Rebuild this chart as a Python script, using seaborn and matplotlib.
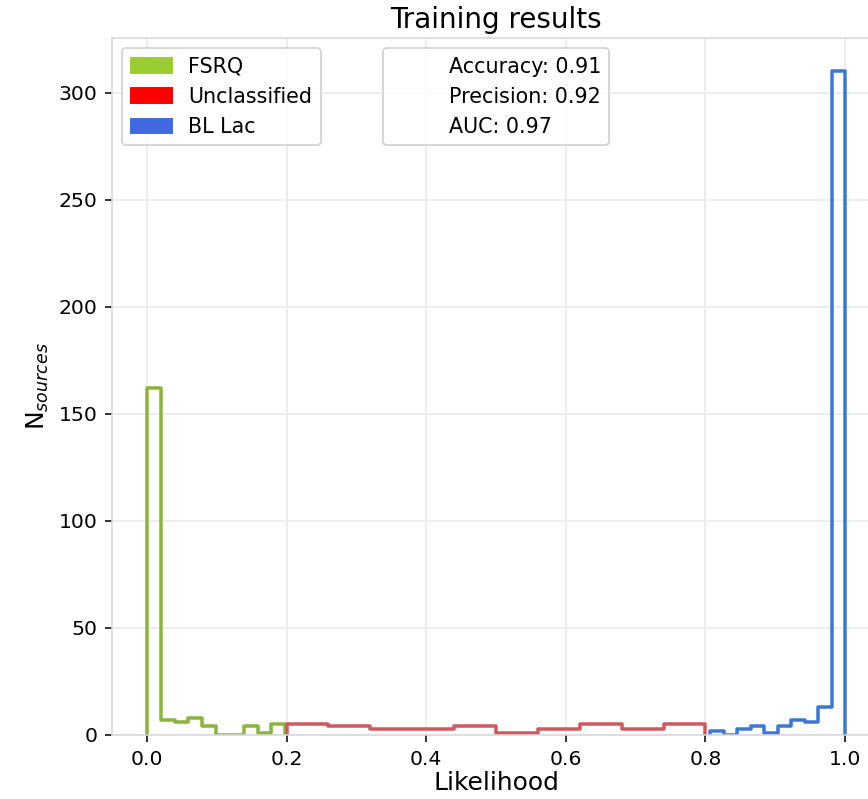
import numpy as np
import pandas as pd
import matplotlib
matplotlib.use("Agg")
import matplotlib.pyplot as plt
import seaborn as sns
from matplotlib.patches import Patch, Rectangle

# bin counts
fsrq_counts = [162, 7, 6, 8, 4, 0, 0, 4, 1, 5]
unclass_counts = [5, 4, 3, 3, 4, 1, 3, 5, 3, 5]
bllac_counts = [2, 0, 3, 4, 1, 4, 7, 6, 13, 310]

# likelihood range covered by each class (10 bins each)
fsrq_range = (0.0, 0.198)
unclass_range = (0.2, 0.8)
bllac_range = (0.807, 1.0)

class_labels = ['FSRQ', 'Unclassified', 'BL Lac']
legend_colors = ['yellowgreen', 'red', 'royalblue']
line_colors = ['#8ab43a', '#cf5a5e', '#3b78d6']
metrics = ['Accuracy: 0.91', 'Precision: 0.92', 'AUC: 0.97']


def binned_frame(counts, rng):
    # one row per bin centre, weighted by the count
    edges = np.linspace(rng[0], rng[1], len(counts) + 1)
    centres = (edges[:-1] + edges[1:]) / 2
    return pd.DataFrame({'Likelihood': centres, 'count': counts})


sns.set_style("whitegrid")
plt.rcParams['font.family'] = ['DejaVu Sans']
plt.rcParams['axes.edgecolor'] = '#d6d6d6'
plt.rcParams['grid.color'] = '#e8e8e8'
plt.rcParams['xtick.bottom'] = True
plt.rcParams['ytick.left'] = True
plt.rcParams['xtick.color'] = 'black'
plt.rcParams['ytick.color'] = 'black'
plt.rcParams['text.color'] = 'black'
plt.rcParams['axes.labelcolor'] = 'black'

fig = plt.figure(figsize=(6.2, 799 / 140), dpi=140)
ax = fig.add_axes([112 / 868, 64 / 799, 768 / 868, 697 / 799])

for counts, rng, col in zip([fsrq_counts, unclass_counts, bllac_counts],
                            [fsrq_range, unclass_range, bllac_range],
                            line_colors):
    df = binned_frame(counts, rng)
    sns.histplot(data=df, x='Likelihood', weights='count', bins=len(counts),
                 binrange=rng, element='step', fill=False, color=col,
                 linewidth=1.8, ax=ax)
    # close the outline down to zero at both ends, like histtype='step'
    line = ax.lines[-1]
    xs, ys = line.get_data()
    xs = np.asarray(xs)
    ys = np.asarray(ys)
    line.set_data(np.r_[xs[0], xs, xs[-1]], np.r_[0, ys, 0])

ax.set_xlim(-0.05, 1.05)
ax.set_ylim(0, 325.5)
ax.set_xticks([0.0, 0.2, 0.4, 0.6, 0.8, 1.0])
ax.set_yticks([0, 50, 100, 150, 200, 250, 300])
ax.tick_params(labelsize=10.5, length=3.5, width=0.8, pad=4)
ax.set_xlabel('Likelihood', fontsize=12.8, labelpad=1)
ax.set_ylabel('N$_{sources}$', fontsize=12.8)
ax.set_title('Training results', fontsize=14.3, pad=5)

handles = [Patch(color=c) for c in legend_colors]
leg1 = ax.legend(handles, class_labels, loc='upper left', fontsize=10.6)
ax.add_artist(leg1)
blank = [Rectangle((0, 0), 1, 1, alpha=0) for _ in metrics]
ax.legend(blank, metrics, loc='upper center', fontsize=10.6)

fig.savefig('out.png', dpi=140)
